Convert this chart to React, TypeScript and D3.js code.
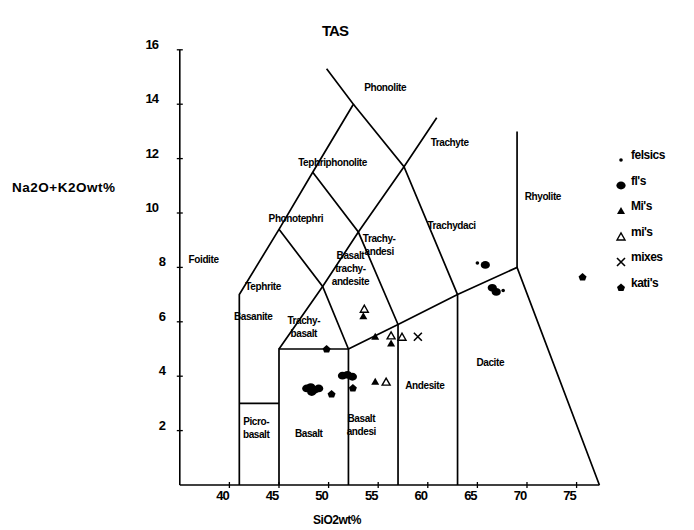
import React from "react";
import * as d3 from "d3";

// TAS field boundaries (SiO2 wt%, Na2O+K2O wt%)
const boundaries: [number, number][][] = [
  [[41, 0], [41, 7], [45, 9.4], [48.4, 11.5], [52.5, 14], [49.8, 15.3]],
  [[41, 3], [45, 3]],
  [[45, 0], [45, 5], [52, 5], [52, 0]],
  [[45, 5], [49.4, 7.3], [53, 9.3], [57.6, 11.7], [60.9, 13.5]],
  [[45, 9.4], [49.4, 7.3], [52, 5]],
  [[48.4, 11.5], [53, 9.3], [57, 5.9]],
  [[52.5, 14], [57.6, 11.7], [63, 7]],
  [[52, 5], [57, 5.9], [63, 7], [69, 8], [77.3, 0]],
  [[57, 0], [57, 5.9]],
  [[63, 0], [63, 7]],
  [[69, 8], [69, 13]],
];

// field labels: lines of text and anchor position (data coords, baseline of first line)
const fieldNames: string[][] = [
  ["Phonolite"], ["Tephriphonolite"], ["Phonotephri"], ["Trachyte"], ["Trachydaci"],
  ["Rhyolite"], ["Trachy-", "andesi"], ["Basalt", "trachy-", "andesite"], ["Tephrite"],
  ["Basanite"], ["Trachy-", "basalt"], ["Foidite"], ["Picro-", "basalt"], ["Basalt"],
  ["Basalt", "andesi"], ["Andesite"], ["Dacite"],
];
const fieldX: number[] = [55.7, 50.4, 46.7, 62.2, 62.4, 71.6, 55.1, 52.2, 43.4, 42.4, 47.5, 37.4, 42.7, 48.0, 53.3, 59.7, 66.3];
const fieldY: number[] = [14.47, 11.72, 9.67, 12.47, 9.42, 10.47, 8.92, 8.32, 7.17, 6.07, 5.92, 8.17, 2.22, 1.77, 2.32, 3.52, 4.37];

const xTicks = [40, 45, 50, 55, 60, 65, 70, 75];
const yTicks = [2, 4, 6, 8, 10, 12, 14, 16];

// samples [SiO2, Na2O+K2O]
const felsics: [number, number][] = [[65.0, 8.16], [67.6, 7.15]];
const fls: [number, number][] = [
  [65.8, 8.09], [66.5, 7.25], [66.9, 7.1],
  [51.4, 4.02], [51.9, 4.05], [52.4, 3.98],
  [47.8, 3.55], [48.2, 3.6], [48.6, 3.5], [49.0, 3.55], [48.3, 3.42],
];
const Mis: [number, number][] = [[53.5, 6.2], [54.7, 5.45], [56.3, 5.2], [54.7, 3.8]];
const mis: [number, number][] = [[53.6, 6.48], [56.3, 5.5], [57.4, 5.45], [55.8, 3.8]];
const mixes: [number, number][] = [[59.0, 5.45]];
const katis: [number, number][] = [[49.8, 5.0], [50.3, 3.35], [52.45, 3.57], [75.6, 7.65]];

const legendNames = ["felsics", "fl's", "Mi's", "mi's", "mixes", "kati's"];

const FONT = "'Liberation Sans', Arial, sans-serif";

function Marker({ kind, cx, cy }: { kind: number; cx: number; cy: number }) {
  switch (kind) {
    case 0:
      return <circle cx={cx} cy={cy} r={1.8} fill="#000" />;
    case 1:
      return <ellipse cx={cx} cy={cy} rx={4.6} ry={3.9} fill="#000" />;
    case 2:
      return <path d={`M${cx - 4},${cy + 3} L${cx},${cy - 4} L${cx + 4},${cy + 3} Z`} fill="#000" />;
    case 3:
      return (
        <path d={`M${cx - 4},${cy + 3.5} L${cx},${cy - 3.5} L${cx + 4},${cy + 3.5} Z`} fill="none" stroke="#000" strokeWidth={1.4} />
      );
    case 4:
      return (
        <path d={`M${cx - 4},${cy - 4} L${cx + 4},${cy + 4} M${cx - 4},${cy + 4} L${cx + 4},${cy - 4}`} stroke="#000" strokeWidth={1.6} />
      );
    default:
      return (
        <path d={`M${cx},${cy - 4} L${cx + 4},${cy - 0.5} L${cx + 2.5},${cy + 3.5} L${cx - 2.5},${cy + 3.5} L${cx - 4},${cy - 0.5} Z`} fill="#000" />
      );
  }
}

export default function App() {
  const x = d3.scaleLinear().domain([35, 77.3]).range([179.8, 599.4]);
  const y = d3.scaleLinear().domain([0, 16]).range([485, 49.8]);
  const line = d3.line<[number, number]>().x((d) => x(d[0])).y((d) => y(d[1]));
  const groups = [felsics, fls, Mis, mis, mixes, katis];

  return (
    <svg width={694} height={530} style={{ position: "absolute", left: 0, top: 0, background: "#fff" }}>
      <rect width={694} height={530} fill="#fff" />
      <text x={335} y={36} textAnchor="middle" fontFamily={FONT} fontSize={15} fontWeight="bold" letterSpacing={-1}>
        TAS
      </text>
      {/* axes */}
      <line x1={x(35)} y1={y(0)} x2={x(35)} y2={y(16)} stroke="#000" strokeWidth={1.6} />
      <line x1={x(35)} y1={y(0)} x2={x(77.3)} y2={y(0)} stroke="#000" strokeWidth={1.6} />
      {yTicks.map((t) => (
        <g key={t}>
          <line x1={x(35) - 3} x2={x(35) + 3} y1={y(t)} y2={y(t)} stroke="#000" strokeWidth={1.3} />
          <text x={t >= 10 ? 158 : 165} y={y(t) - 1} textAnchor="end" fontFamily={FONT} fontSize={13} fontWeight="bold" letterSpacing={-1}>
            {t}
          </text>
        </g>
      ))}
      {xTicks.map((t) => (
        <g key={t}>
          <line x1={x(t)} x2={x(t)} y1={y(0) - 3} y2={y(0) + 3} stroke="#000" strokeWidth={1.3} />
          <text x={x(t) - 7} y={500} textAnchor="middle" fontFamily={FONT} fontSize={13} fontWeight="bold" letterSpacing={-1}>
            {t}
          </text>
        </g>
      ))}
      <text x={337} y={524} textAnchor="middle" fontFamily={FONT} fontSize={12} fontWeight="bold" letterSpacing={-0.5}>
        SiO2wt%
      </text>
      <text x={12} y={192} fontFamily={FONT} fontSize={13.5} fontWeight="bold" letterSpacing={0.5}>
        Na2O+K2Owt%
      </text>
      {/* field boundaries */}
      {boundaries.map((b, i) => (
        <path key={i} d={line(b) || ""} fill="none" stroke="#000" strokeWidth={1.7} strokeLinejoin="miter" />
      ))}
      {/* field labels */}
      {fieldNames.map((lines, i) => (
        <text key={i} x={x(fieldX[i])} y={y(fieldY[i])} textAnchor="middle" fontFamily={FONT} fontSize={10} fontWeight="bold" letterSpacing={-0.4}>
          {lines.map((l, j) => (
            <tspan key={j} x={x(fieldX[i])} dy={j === 0 ? 0 : 13}>
              {l}
            </tspan>
          ))}
        </text>
      ))}
      {/* samples */}
      {groups.map((g, k) =>
        g.map((d, i) => <Marker key={`${k}-${i}`} kind={k} cx={x(d[0])} cy={y(d[1])} />)
      )}
      {/* legend */}
      {legendNames.map((n, i) => (
        <g key={n}>
          <Marker kind={i} cx={621} cy={160 + i * 25.5} />
          <text x={631} y={160 + i * 25.5 - 1} fontFamily={FONT} fontSize={12} fontWeight="bold" letterSpacing={-0.5}>
            {n}
          </text>
        </g>
      ))}
    </svg>
  );
}
